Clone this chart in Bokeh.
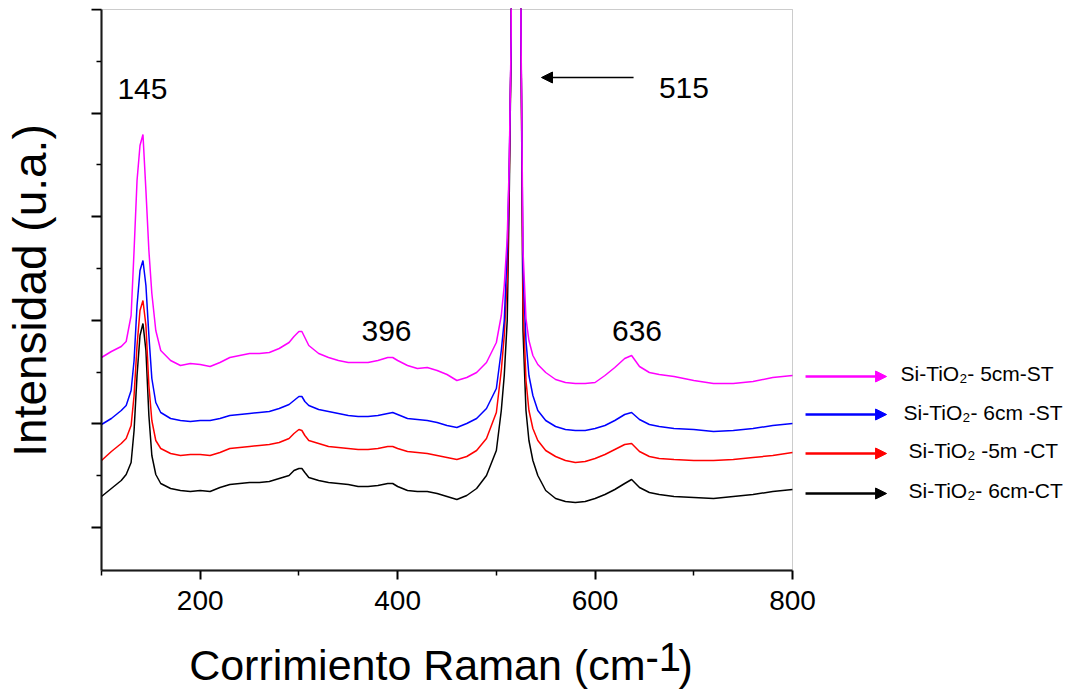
import math
from bokeh.plotting import figure
from bokeh.models import (Range1d, FixedTicker, Label, Arrow, NormalHead,
                          CustomJSTickFormatter, BoxAnnotation)
from bokeh.embed import file_html
from bokeh.resources import INLINE

# Raman shift (cm-1)
shift = [100, 110, 120, 125, 130, 133, 136, 139, 142, 145,
         148, 151, 155, 160, 170, 180, 190, 200, 210, 220,
         230, 240, 250, 260, 270, 280, 290, 295, 300, 303,
         306, 310, 320, 330, 340, 350, 360, 370, 380, 390,
         395, 400, 410, 420, 430, 440, 450, 460, 470, 480,
         490, 500, 505, 508, 511, 513, 515, 517, 520, 523,
         525, 527, 530, 533, 537, 542, 550, 560, 570, 580,
         590, 600, 610, 620, 630, 637, 645, 655, 665, 680,
         700, 720, 740, 760, 780, 800]

# Intensities (a.u., stacked)
i_5cm_st = [213, 219, 224, 229, 255, 320, 390, 425, 436, 380,
            320, 277, 240, 220, 210, 205, 207, 206, 204, 208,
            213, 215, 217, 217, 218, 222, 228, 234, 239, 239,
            233, 225, 217, 213, 210, 208, 208, 208, 210, 213,
            213, 210, 205, 202, 203, 200, 196, 190, 193, 198,
            208, 228, 255, 285, 332, 405, 535, 1170, 3570, 1170,
            535, 320, 252, 230, 215, 206, 198, 191, 188, 187,
            187, 188, 195, 203, 212, 215, 204, 198, 196, 194,
            190, 187, 187, 189, 193, 195]

i_6cm_st = [146, 152, 160, 165, 180, 210, 265, 300, 310, 285,
            235, 192, 168, 158, 152, 150, 149, 150, 150, 152,
            155, 156, 157, 158, 159, 162, 166, 170, 174, 174,
            169, 165, 161, 159, 157, 155, 154, 154, 155, 157,
            158, 156, 152, 151, 150, 148, 145, 143, 147, 152,
            162, 182, 220, 250, 320, 400, 530, 1170, 3570, 1170,
            530, 300, 230, 195, 175, 160, 150, 144, 141, 140,
            140, 142, 145, 150, 156, 158, 151, 146, 144, 142,
            141, 139, 140, 142, 145, 147]

i_5m_ct = [110, 119, 127, 132, 145, 175, 225, 260, 270, 245,
           185, 150, 130, 122, 117, 115, 116, 116, 115, 118,
           122, 123, 124, 125, 126, 128, 132, 137, 141, 140,
           135, 130, 127, 124, 123, 122, 121, 121, 122, 124,
           124, 122, 119, 118, 117, 115, 113, 111, 114, 120,
           132, 158, 200, 235, 290, 390, 530, 1170, 3570, 1170,
           530, 270, 190, 160, 142, 130, 120, 114, 110, 108,
           109, 112, 116, 121, 126, 127, 119, 114, 112, 111,
           110, 110, 111, 113, 115, 118]

i_6cm_ct = [74, 82, 90, 96, 108, 140, 195, 235, 247, 220,
            155, 115, 96, 87, 82, 80, 79, 80, 79, 83,
            86, 87, 88, 88, 89, 92, 95, 100, 102, 102,
            98, 93, 90, 88, 87, 86, 84, 84, 85, 87,
            87, 84, 80, 79, 79, 77, 74, 71, 75, 82,
            95, 120, 160, 195, 250, 370, 530, 1170, 3570, 1170,
            530, 240, 160, 130, 110, 95, 80, 72, 69, 68,
            69, 72, 76, 81, 87, 91, 83, 78, 76, 74,
            73, 72, 74, 76, 79, 81]

series_names = ["Si-TiO\u2082- 5cm-ST", "Si-TiO\u2082- 6cm -ST",
                "Si-TiO\u2082 -5m -CT", "Si-TiO\u2082- 6cm-CT"]
series_values = [i_5cm_st, i_6cm_st, i_5m_ct, i_6cm_ct]
series_colors = ["#ff00ff", "#0000ff", "#ff0000", "#000000"]

peak_labels = ["145", "396", "515", "636"]

x_major_ticks = [200, 400, 600, 800]
x_minor_ticks = [100, 300, 500, 700]
y_major_ticks = [43, 146.6, 250.2, 353.8, 457.4, 561]
y_minor_ticks = [94.8, 198.4, 302, 405.6, 509.2]

x_title_main = "Corrimiento Raman (cm"
x_title_sup = "-1"
x_title_end = ")"
y_title = "Intensidad (u.a.)"

X_MIN, X_MAX = 100, 800
Y_MIN, Y_MAX = 0, 561

FONT = "Liberation Sans"

# whole canvas is the frame; axes are drawn at fixed locations
W, H = 1080, 697
TOP = 8
AX_LEFT_PX, AX_BOTTOM_PX = 101, 570       # where the axes sit on the canvas
k = 691 / 700.0                            # px per cm-1
x_start = X_MIN - AX_LEFT_PX / k
x_end = X_MIN + (W - AX_LEFT_PX) / k
y_start = Y_MIN - (H - AX_BOTTOM_PX)
y_end = Y_MAX + 1

p = figure(width=W, height=H, x_range=Range1d(x_start, x_end), y_range=Range1d(y_start, y_end),
           output_backend="svg", toolbar_location=None,
           min_border_left=0, min_border_right=0, min_border_top=TOP, min_border_bottom=0)
p.background_fill_color = "white"
p.border_fill_color = "white"
p.xgrid.visible = False
p.ygrid.visible = False
p.outline_line_color = None

# plot box (thin grey top/right border)
p.add_layout(BoxAnnotation(left=X_MIN, right=X_MAX, bottom=Y_MIN, top=Y_MAX,
                           fill_alpha=0, line_color="#555555", line_width=1))

# lines (black first, magenta last)
for vals, col in reversed(list(zip(series_values, series_colors))):
    p.line(shift, vals, line_color=col, line_width=1.5)

# axes
p.xaxis.fixed_location = Y_MIN
p.yaxis.fixed_location = X_MIN
p.xaxis.ticker = FixedTicker(ticks=x_major_ticks, minor_ticks=x_minor_ticks)
p.yaxis.ticker = FixedTicker(ticks=y_major_ticks, minor_ticks=y_minor_ticks)
p.yaxis.formatter = CustomJSTickFormatter(code="return ''")
p.xaxis.bounds = (X_MIN, X_MAX)
p.yaxis.bounds = (Y_MIN, Y_MAX)
for ax in (p.xaxis[0], p.yaxis[0]):
    ax.axis_line_width = 2
    ax.axis_line_color = "black"
    ax.major_tick_line_width = 2
    ax.minor_tick_line_width = 1.5
    ax.major_tick_line_color = "black"
    ax.minor_tick_line_color = "black"
    ax.major_tick_in = 0
    ax.minor_tick_in = 0
    ax.minor_tick_out = 5
p.xaxis.major_tick_out = 9
p.yaxis.major_tick_out = 10
p.xaxis.major_label_text_font = FONT
p.xaxis.major_label_text_font_size = "28px"
p.xaxis.major_label_text_color = "black"
p.xaxis.major_label_standoff = 11
p.yaxis.major_label_standoff = 0

# axis titles
p.add_layout(Label(x=X_MIN - 72 / k, y=280, text=y_title, angle=math.pi / 2,
                   text_font=FONT, text_font_size="46px", text_align="center",
                   text_baseline="alphabetic", text_color="black"))
p.add_layout(Label(x=X_MIN + 544 / k, y=-94, text=x_title_main, text_font=FONT,
                   text_font_size="43px", text_align="right", text_baseline="alphabetic",
                   text_color="black"))
p.add_layout(Label(x=X_MIN + 544 / k, y=-86, text=x_title_sup, text_font=FONT,
                   text_font_size="40px", text_align="left", text_baseline="alphabetic",
                   text_color="black"))
p.add_layout(Label(x=X_MIN + 577 / k, y=-94, text=x_title_end, text_font=FONT,
                   text_font_size="43px", text_align="left", text_baseline="alphabetic",
                   text_color="black"))

# peak annotations
peak_x = [141.5, 388.7, 690, 642.5]
peak_y = [482, 240, 483, 240]
for t, lx, ly in zip(peak_labels, peak_x, peak_y):
    p.add_layout(Label(x=lx, y=ly, text=t, text_font=FONT, text_font_size="30px",
                       text_align="center", text_baseline="middle", text_color="black"))
p.add_layout(Arrow(x_start=639, y_start=493, x_end=545.7, y_end=493, line_color="black",
                   line_width=1.5,
                   end=NormalHead(size=11, fill_color="black", line_color="black")))

# legend (arrows + texts) to the right of the plot box
leg_arrow_y = [194, 156, 117, 77]
leg_text_x = [909.4, 912.5, 917.5, 917.5]
leg_text_y = [197, 158, 120, 80]
for name, col, ay, tx, ty in zip(series_names, series_colors, leg_arrow_y, leg_text_x, leg_text_y):
    p.add_layout(Arrow(x_start=813.2, y_start=ay, x_end=895.3, y_end=ay, line_color=col,
                       line_width=2.5,
                       end=NormalHead(size=11, fill_color=col, line_color=col)))
    p.add_layout(Label(x=tx, y=ty, text=name, text_font=FONT, text_font_size="21px",
                       text_align="left", text_baseline="middle", text_color="black"))

open("out.html", "w").write(file_html(p, INLINE))
